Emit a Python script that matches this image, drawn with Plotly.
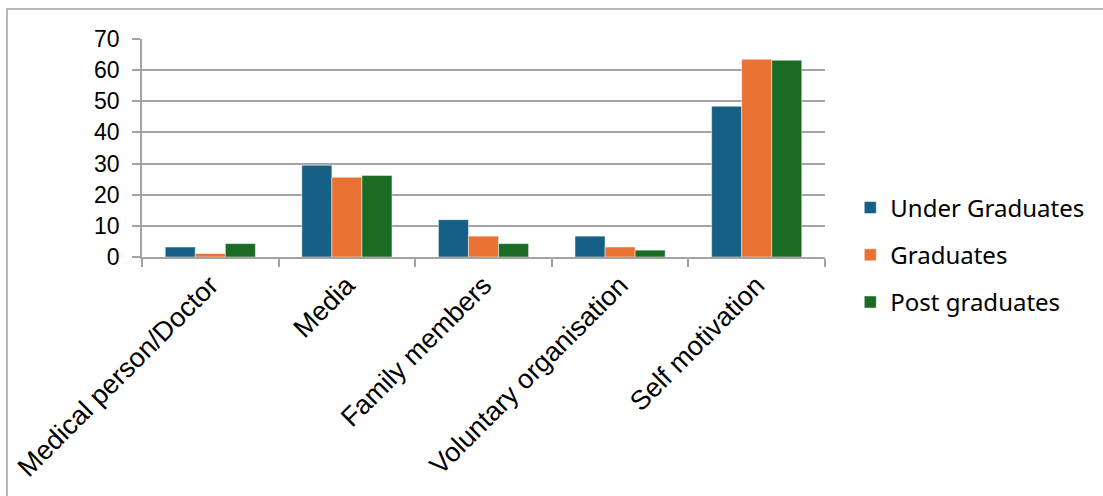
import plotly.graph_objects as go

categories = ["Medical person/Doctor", "Media", "Family members", "Voluntary organisation", "Self motivation"]
under_graduates = [3.2, 29.5, 12.0, 6.7, 48.4]
graduates = [1.1, 25.6, 6.7, 3.2, 63.5]
post_graduates = [4.3, 26.2, 4.3, 2.2, 63.2]
y_ticks = [0, 10, 20, 30, 40, 50, 60, 70]

series = [
    ("Under Graduates", under_graduates, "#176085"),
    ("Graduates", graduates, "#E97132"),
    ("Post graduates", post_graduates, "#1A6B24"),
]

fig = go.Figure()
for i, (name, vals, col) in enumerate(series):
    fig.add_trace(go.Bar(
        x=categories, y=vals, name=name, legendgroup=f"g{i}",
        marker=dict(color=col, line=dict(color="rgba(255,255,255,0.6)", width=0.8)),
    ))

grid = "#A3A3A3"
fig.update_layout(
    width=1103, height=496,
    margin=dict(l=142, r=278, t=39, b=239),
    paper_bgcolor="white", plot_bgcolor="white",
    barmode="group", bargap=0.34, bargroupgap=0,
    font=dict(family="Liberation Sans, Arial", color="black"),
    legend=dict(
        x=1.037, xanchor="left", y=(257 - 255) / 218, yanchor="middle",
        font=dict(family="Noto Sans", size=24, color="black"),
        tracegroupgap=13, traceorder="grouped",
    ),
    showlegend=True,
    shapes=[dict(type="rect", xref="paper", yref="paper",
                 x0=(7 - 142) / 683, x1=2, y0=-3, y1=(257 - 9) / 218,
                 line=dict(color="#A0A0A0", width=1.5), fillcolor="rgba(0,0,0,0)", layer="below")],
)
fig.update_xaxes(
    tickangle=-45, tickfont=dict(size=27), showline=True, linecolor=grid, linewidth=1.5,
    ticks="outside", tickson="boundaries", ticklen=8, tickcolor=grid, tickwidth=1.5,
    showgrid=False,
)
fig.update_yaxes(
    range=[0, 70], tickvals=y_ticks, tickfont=dict(size=23),
    showline=True, linecolor=grid, linewidth=1.5,
    ticks="outside", ticklen=8, tickcolor=grid, tickwidth=1.5, ticklabelstandoff=8,
    showgrid=True, gridcolor=grid, gridwidth=1.5, zeroline=False,
)
fig.write_html("out.html")
